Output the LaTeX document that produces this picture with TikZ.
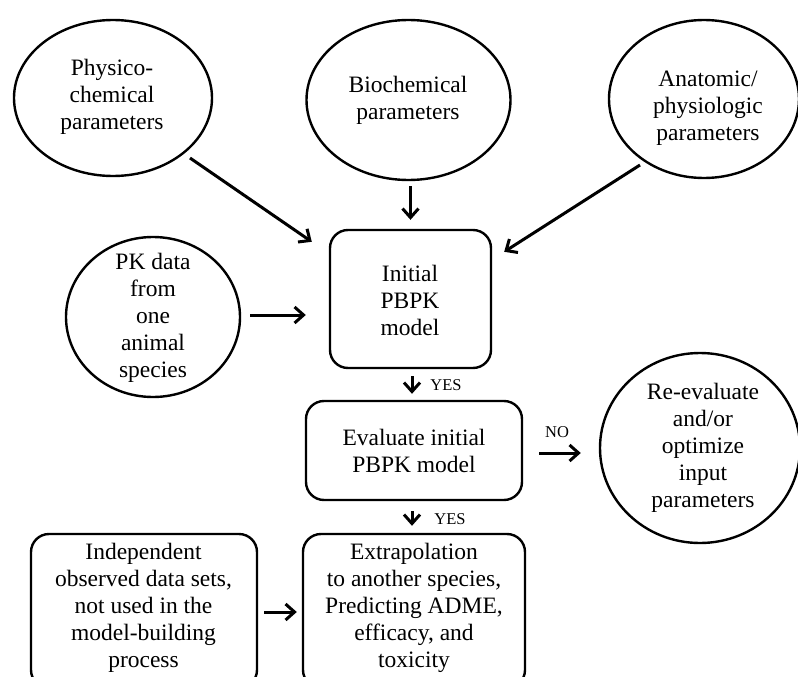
\documentclass[tikz,border=0pt]{standalone}
\usepackage{fontspec}
\setmainfont{Liberation Serif}
\usetikzlibrary{shapes.geometric,arrows.meta,calc}
\begin{document}
\begin{tikzpicture}[x=1pt,y=-1pt,
  shapeline/.style={draw, line width=2.4pt},
  oval/.style={shapeline, ellipse, inner sep=0pt},
  box/.style={shapeline, rectangle, rounded corners=18pt, inner sep=0pt},
  txt/.style={align=center, font=\fontsize{23.5}{27}\selectfont, inner sep=0pt},
  arr/.style={line width=3pt, -{Straight Barb[length=9pt,width=16pt]}},
  lbl/.style={font=\fontsize{16.5}{18}\selectfont, inner sep=0pt}]
\useasboundingbox (0,0) rectangle (798,677);
\clip (0,0) rectangle (798,677);
% ovals
\node[oval, minimum width=198pt, minimum height=156pt] (phys) at (113,98) {};
\node[txt] (physT) at (112,97) {Physico-\\chemical\\parameters};
\node[oval, minimum width=204pt, minimum height=160pt] (bio) at (408.5,100) {};
\node[txt] (bioT) at (408,100) {Biochemical\\parameters};
\node[oval, minimum width=190pt, minimum height=158pt] (anat) at (704,99) {};
\node[txt] (anatT) at (708,108) {Anatomic/\\physiologic\\parameters};
\node[oval, minimum width=174pt, minimum height=160pt] (pk) at (153,317) {};
\node[txt] (pkT) at (153,318) {PK data\\from\\one\\animal\\species};
\node[oval, minimum width=200pt, minimum height=190pt] (reeval) at (700,448) {};
\node[txt] (reevalT) at (703,448) {Re-evaluate\\and/or\\optimize\\input\\parameters};
% boxes
\node[box, minimum width=161pt, minimum height=138pt] (init) at (410.5,299) {};
\node[txt] (initT) at (410,300) {Initial\\PBPK\\model};
\node[box, minimum width=216pt, minimum height=99pt] (eval) at (414,450.5) {};
\node[txt] (evalT) at (414,451) {Evaluate initial\\PBPK model};
\node[box, minimum width=222pt, minimum height=154pt] (extra) at (414,611) {};
\node[txt] (extraT) at (414,608) {Extrapolation\\to another species,\\Predicting ADME,\\efficacy, and\\toxicity};
\node[box, minimum width=226pt, minimum height=154pt] (indep) at (144,611) {};
\node[txt] (indepT) at (143.5,608) {Independent\\observed data sets,\\not used in the\\model-building\\process};
% connectors
\draw[arr] ([shift={(77,60)}]phys.center) -- ([shift={(-17,13)}]init.north west);
\draw[arr] ($(init.north |- bio.south)+(0,5)$) -- ([shift={(0,-9)}]init.north);
\draw[arr] ([shift={(-64,66)}]anat.center) -- ([shift={(12,23)}]init.north east);
\draw[arr] ([shift={(9,-2)}]pk.east) -- ([shift={(-23,16)}]init.west);
\draw[arr] ([shift={(1.5,7)}]init.south) -- ([shift={(-2,-6)}]eval.north);
\draw[arr] ([shift={(16,2.5)}]eval.east) -- ([shift={(-18,5)}]reeval.west);
\draw[arr] ([shift={(-2,10)}]eval.south) -- ([shift={(-2,-7)}]extra.north);
\draw[arr] ([shift={(6,1)}]indep.east) -- ([shift={(-5,1)}]extra.west);
% labels
\node[lbl] (yes1) at (446,385) {YES};
\node[lbl] (no1) at (557,432) {NO};
\node[lbl] (yes2) at (450,519) {YES};
\end{tikzpicture}
\end{document}
